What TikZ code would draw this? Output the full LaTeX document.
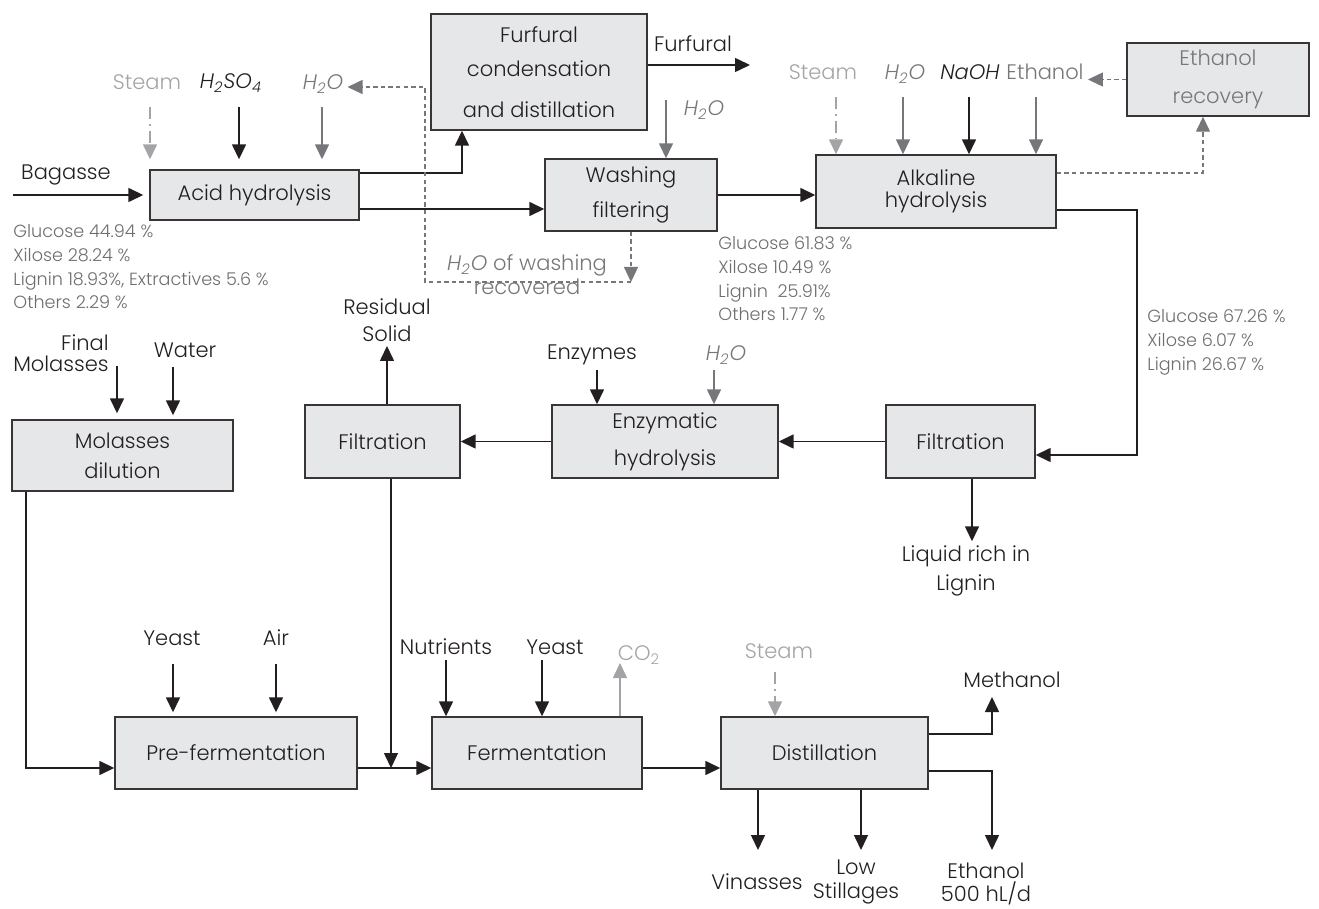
\documentclass[tikz,border=0pt]{standalone}
\usepackage{fontspec}
\setmainfont{Poppins}[UprightFont=* Light, ItalicFont=* Light Italic]
\usetikzlibrary{arrows.meta}
\definecolor{boxfill}{HTML}{E6E7E8}
\definecolor{lgray}{HTML}{A2A4A7}
\definecolor{mgray}{HTML}{76777A}
\definecolor{tgray}{HTML}{6D6E71}
\definecolor{ink}{HTML}{231F20}
\tikzset{
  box/.style={draw=ink!90, fill=boxfill, line width=0.7pt, inner sep=0pt, align=center, text=ink, font=\fontsize{10.5}{12.6}\selectfont},
  lbl/.style={text=ink, font=\fontsize{10.5}{12.6}\selectfont, inner sep=2pt, align=center},
  comp/.style={text=tgray, font=\fontsize{8.8}{11.9}\selectfont, inner sep=0pt, align=left, anchor=north west},
  arr/.style={-{Triangle[length=7.5pt,width=7pt]}, line width=0.75pt, draw=ink},
  garr/.style={arr, draw=mgray, -{Triangle[length=7.5pt,width=7pt,fill=mgray]}},
  larr/.style={arr, draw=lgray, -{Triangle[length=7.5pt,width=7pt,fill=lgray]}},
  steamarr/.style={larr, dash pattern=on 6pt off 2.5pt on 0.8pt off 2.5pt},
  dasharr/.style={garr, line width=0.65pt, dash pattern=on 2.2pt off 1.6pt},
}
\newcommand{\HtwoO}{{\itshape H\textsubscript{2}O}}
\begin{document}
\begin{tikzpicture}[x=0.5pt,y=-0.5pt]
\useasboundingbox (0,0) rectangle (1319,909);

% ---- boxes
\node[box, minimum width=108pt, minimum height=58pt] (furf) at (539,72) {Furfural\\[4.5pt]condensation\\[8pt]and distillation};
\node[box, minimum width=104.5pt, minimum height=25pt] (acid) at (254.5,195) {Acid hydrolysis};
\node[box, minimum width=86pt, minimum height=36pt] (wash) at (631,195) {Washing\\[5pt]filtering};
\node[box, minimum width=120pt, minimum height=36.5pt] (alk) at (936,191.5) {Alkaline\\[-1.5pt]hydrolysis};
\node[box, minimum width=91pt, minimum height=36.5pt, text=mgray] (etrec) at (1218,79.5) {Ethanol\\[6pt]recovery};
\node[box, minimum width=110.5pt, minimum height=35.5pt] (moldil) at (122.5,455.5) {Molasses\\[2.5pt]dilution};
\node[box, minimum width=77.5pt, minimum height=36.5pt] (filtL) at (382.5,441.5) {Filtration};
\node[box, minimum width=113pt, minimum height=36.5pt] (enz) at (665,441.5) {Enzymatic\\[6pt]hydrolysis};
\node[box, minimum width=74.5pt, minimum height=36.5pt] (filtR) at (960.5,441.5) {Filtration};
\node[box, minimum width=121pt, minimum height=36pt] (pref) at (236,753) {Pre-fermentation};
\node[box, minimum width=105pt, minimum height=36pt] (ferm) at (537,753) {Fermentation};
\node[box, minimum width=103.5pt, minimum height=36pt] (dist) at (824.5,753) {Distillation};

% ---- acid hydrolysis
\node[lbl] (bag) at (66,175) {Bagasse};
\coordinate (bagin) at (13,195);
\draw[arr, shorten >=3pt] (bagin) -- (acid.west);
\node[lbl, text=lgray] (stAl) at (147,82) {Steam};
\coordinate (stA) at (150,107);
\draw[steamarr, shorten >=5pt] (stA) -- (stA |- acid.north);
\node[lbl] (hsA) at (231,83) {{\itshape H\textsubscript{2}SO\textsubscript{4}}};
\coordinate (hsAs) at (239,107);
\draw[arr, shorten >=5pt] (hsAs) -- (hsAs |- acid.north);
\node[lbl, text=mgray] (h2oA) at (323,84) {\HtwoO};
\coordinate (h2oAs) at (322,107);
\draw[garr, shorten >=5pt] (h2oAs) -- (h2oAs |- acid.north);

\coordinate (j1) at (462,173);
\draw[arr] ([yshift=11pt]acid.east) -- (j1) -- (j1 |- furf.south);
\draw[arr] ([yshift=-7pt]acid.east) -- ([yshift=-7pt]acid.east -| wash.west);

% furfural out
\node[lbl] (furflab) at (693,44) {Furfural};
\coordinate (furfout) at (750,65);
\draw[arr] (furf.east |- furfout) -- (furfout);

% washing
\node[lbl, text=mgray] (h2oW) at (704,110) {\HtwoO};
\coordinate (h2oWs) at (666,100);
\draw[garr] (h2oWs) -- (h2oWs |- wash.north);
\draw[arr] (wash.east) -- (wash.east -| alk.west);

% recovered water loop
\coordinate (rec) at (631,282);
\coordinate (recv) at (425,87);
\node[lbl, text=mgray] (recl) at (527,275) {{\itshape H\textsubscript{2}O} of washing\\[-0.5pt]recovered};
\draw[dasharr] (wash.south) -- (rec);
\draw[dasharr] (rec) -| (recv) -- (recv -| h2oA.east);

% alkaline inputs
\node[lbl, text=lgray] (stBl) at (823,72) {Steam};
\node[lbl, text=mgray] (h2oB) at (905,74) {\HtwoO};
\node[lbl] (naoh) at (970,72) {{\itshape NaOH}};
\node[lbl, text=mgray] (ethl) at (1045,72) {Ethanol};
\coordinate (stBs) at (836,97);
\coordinate (h2oBs) at (903,97);
\coordinate (naohs) at (969,97);
\coordinate (eths) at (1036,97);
\draw[steamarr] (stBs) -- (stBs |- alk.north);
\draw[garr] (h2oBs) -- (h2oBs |- alk.north);
\draw[arr] (naohs) -- (naohs |- alk.north);
\draw[garr] (eths) -- (eths |- alk.north);
\draw[dasharr] (etrec.west) -- (etrec.west -| ethl.east);
\draw[dasharr] ([yshift=9.25pt]alk.east) -| ([xshift=-7.5pt]etrec.south);
\coordinate (bendR) at (1137,210);
\draw[arr] ([yshift=-9.25pt]alk.east) -- (bendR) |- ([yshift=-6.75pt]filtR.east);

% compositions
\node[comp] (c1) at (13,224) {Glucose 44.94 \%\\Xilose 28.24 \%\\Lignin 18.93\%, Extractives 5.6 \%\\Others 2.29 \%};
\node[comp] (c2) at (718,236) {Glucose 61.83 \%\\Xilose 10.49 \%\\Lignin\ \ 25.91\%\\Others 1.77 \%};
\node[comp] (c3) at (1147,309) {Glucose 67.26 \%\\Xilose 6.07 \%\\Lignin 26.67 \%};

% middle row
\draw[arr] (filtR.west) -- (enz.east);
\node[lbl] (liq) at (966,571) {Liquid rich in\\[2pt]Lignin};
\draw[arr] ([xshift=5.75pt]filtR.south) -- ([xshift=5.75pt]filtR.south |- liq.north);
\node[lbl] (enzl) at (592,355) {Enzymes};
\coordinate (enzs) at (597,370);
\draw[arr] (enzs) -- (enzs |- enz.north);
\node[lbl, text=mgray] (h2oE) at (726,355) {\HtwoO};
\coordinate (h2oEs) at (714,370);
\draw[garr] (h2oEs) -- (h2oEs |- enz.north);
\draw[arr] (enz.west) -- (filtL.east);
\node[lbl] (res) at (387,320) {Residual\\[1pt]Solid};
\draw[arr] ([xshift=2.25pt]filtL.north) -- ([xshift=2.25pt]filtL.north |- res.south);
\coordinate (mix) at (391,768);
\draw[arr] ([xshift=4.25pt]filtL.south) -- (mix);

% molasses
\node[lbl, align=right, anchor=east, font=\fontsize{10.5}{10.5}\selectfont] (finm) at (113,353) {Final\\Molasses};
\coordinate (finms) at (117,366);
\draw[arr, shorten >=3pt] (finms) -- (finms |- moldil.north);
\node[lbl] (wat) at (185,350) {Water};
\coordinate (wats) at (173,367);
\draw[arr, shorten >=2pt] (wats) -- (wats |- moldil.north);
\draw[arr] ([xshift=-48.25pt]moldil.south) |- ([yshift=-7.5pt]pref.west);

% pre-fermentation
\node[lbl] (yst1) at (172,638) {Yeast};
\node[lbl] (air) at (276,638) {Air};
\coordinate (yst1s) at (173,664);
\coordinate (airs) at (276,664);
\draw[arr, shorten >=2pt] (yst1s) -- (yst1s |- pref.north);
\draw[arr, shorten >=2pt] (airs) -- (airs |- pref.north);
\draw[arr] ([yshift=-7.5pt]pref.east) -- ([yshift=-7.5pt]ferm.west);

% fermentation
\node[lbl] (nut) at (446,647) {Nutrients};
\node[lbl] (yst2) at (555,647) {Yeast};
\coordinate (nuts) at (446,660);
\coordinate (yst2s) at (542,660);
\draw[arr] (nuts) -- (nuts |- ferm.north);
\draw[arr] (yst2s) -- (yst2s |- ferm.north);
\node[lbl, text=lgray] (co2) at (639,655) {CO\textsubscript{2}};
\coordinate (co2t) at (620,663);
\draw[larr] (co2t |- ferm.north) -- (co2t);
\draw[arr] ([yshift=-7.5pt]ferm.east) -- ([yshift=-7.5pt]dist.west);

% distillation
\node[lbl, text=lgray] (stDl) at (779,651) {Steam};
\coordinate (stDs) at (775,672);
\draw[steamarr] (stDs) -- (stDs |- dist.north);
\node[lbl] (meth) at (1012,680) {Methanol};
\coordinate (methtip) at (992,697);
\draw[arr] ([yshift=9.5pt]dist.east) -| (methtip);
\node[lbl] (etho) at (986,884) {Ethanol\\[-1pt]500 hL/d};
\coordinate (ethtip) at (992,850);
\draw[arr] ([yshift=-9pt]dist.east) -| (ethtip);
\node[lbl] (vin) at (757,882) {Vinasses};
\coordinate (vintip) at (758,850);
\draw[arr] ([xshift=-33.25pt]dist.south) -- (vintip);
\node[lbl] (low) at (856,882) {Low\\[-1pt]Stillages};
\coordinate (lowtip) at (861,850);
\draw[arr] ([xshift=18.25pt]dist.south) -- (lowtip);
\end{tikzpicture}
\end{document}
